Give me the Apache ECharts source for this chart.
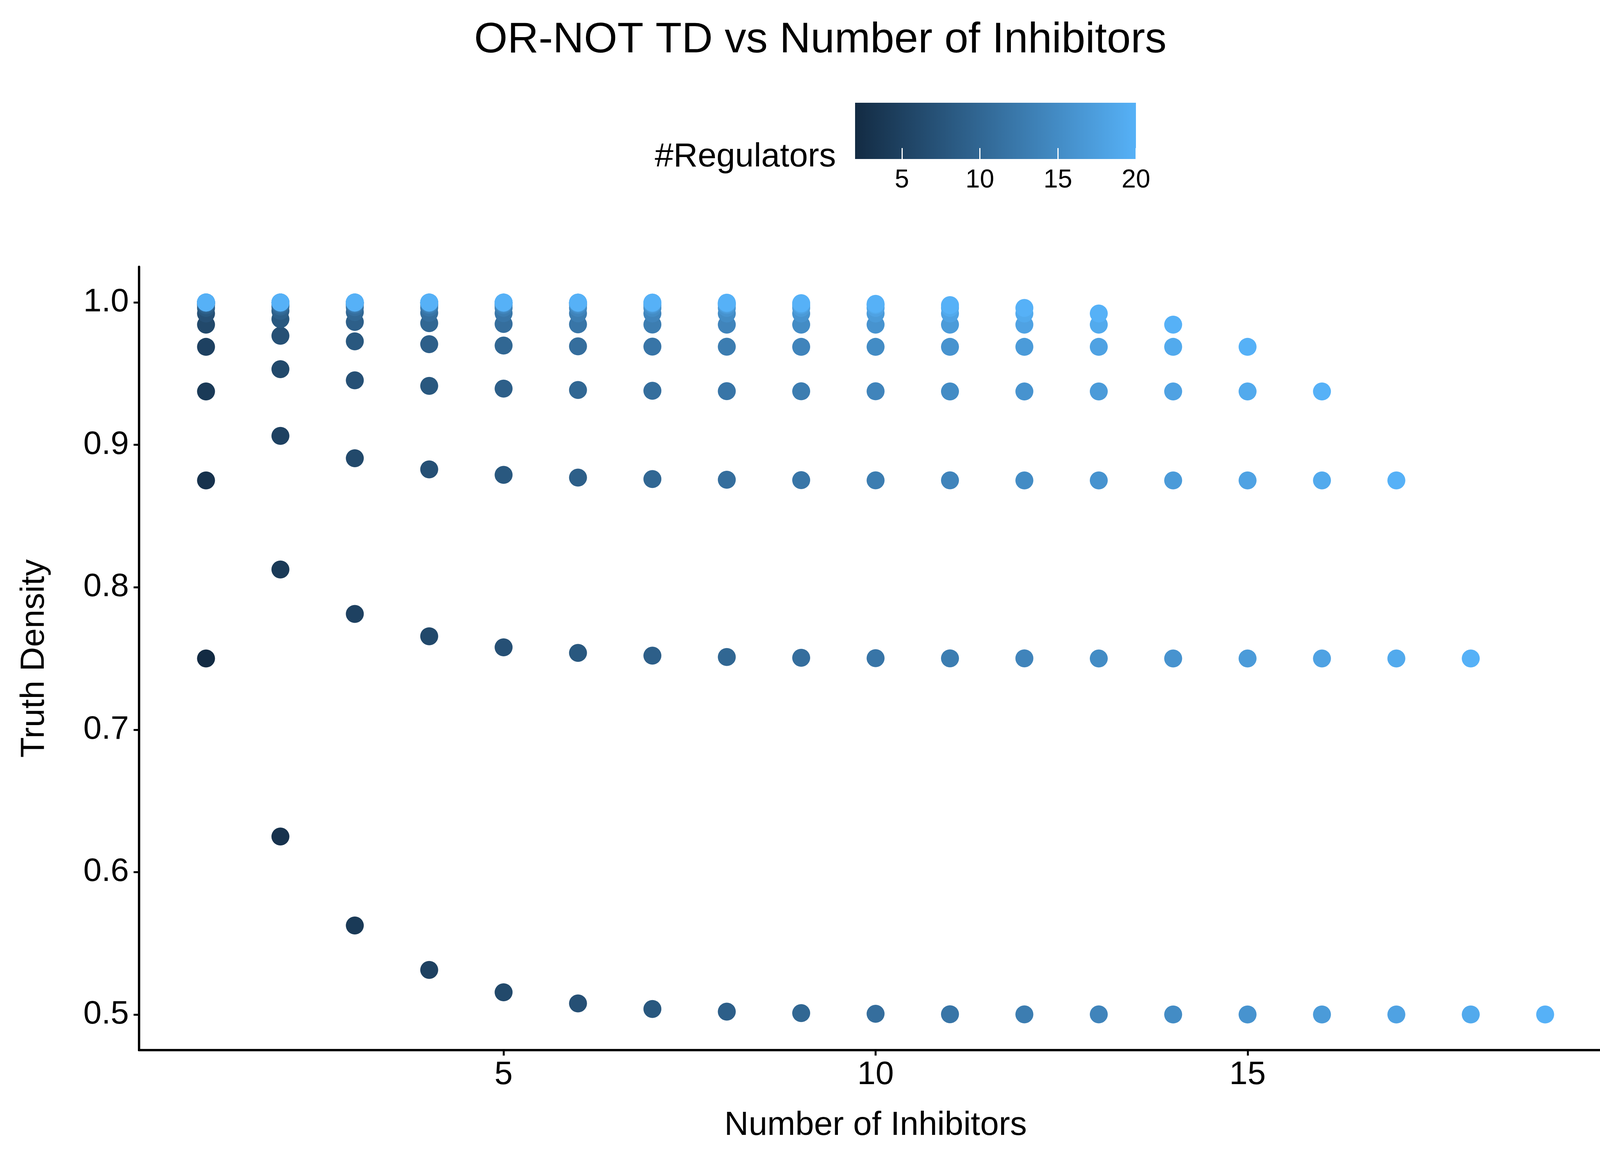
<!DOCTYPE html>
<html><head><meta charset="utf-8">
<script src="https://cdn.jsdelivr.net/npm/echarts@6/dist/echarts.min.js"></script>
<style>html,body{margin:0;padding:0;background:#fff}#c{width:4200px;height:3000px}</style>
</head><body><div id="c"></div>
<script>
// Truth density rows, one per number of activators (k = 1..19); index i => inhibitors n = i+1
const row1 = [0.75,0.625,0.5625,0.5313,0.5156,0.5078,0.5039,0.502,0.501,0.5005,0.5002,0.5001,0.5001,0.5,0.5,0.5,0.5,0.5,0.5];
const row2 = [0.875,0.8125,0.7813,0.7656,0.7578,0.7539,0.752,0.751,0.7505,0.7502,0.7501,0.7501,0.75,0.75,0.75,0.75,0.75,0.75];
const row3 = [0.9375,0.9063,0.8906,0.8828,0.8789,0.877,0.876,0.8755,0.8752,0.8751,0.8751,0.875,0.875,0.875,0.875,0.875,0.875];
const row4 = [0.9688,0.9531,0.9453,0.9414,0.9395,0.9385,0.938,0.9377,0.9376,0.9376,0.9375,0.9375,0.9375,0.9375,0.9375,0.9375];
const row5 = [0.9844,0.9766,0.9727,0.9707,0.9697,0.9692,0.969,0.9689,0.9688,0.9688,0.9688,0.9688,0.9688,0.9688,0.9688];
const row6 = [0.9922,0.9883,0.9863,0.9854,0.9849,0.9846,0.9845,0.9844,0.9844,0.9844,0.9844,0.9844,0.9844,0.9844];
const row7 = [0.9961,0.9941,0.9932,0.9927,0.9924,0.9923,0.9922,0.9922,0.9922,0.9922,0.9922,0.9922,0.9922];
const row8 = [0.998,0.9971,0.9966,0.9963,0.9962,0.9961,0.9961,0.9961,0.9961,0.9961,0.9961,0.9961];
const row9 = [0.999,0.9985,0.9983,0.9982,0.9981,0.9981,0.9981,0.9981,0.9981,0.9981,0.9981];
const row10 = [0.9995,0.9993,0.9991,0.999,0.999,0.999,0.999,0.999,0.999,0.999];
const row11 = [0.9998,0.9996,0.9995,0.9995,0.9995,0.9995,0.9995,0.9995,0.9995];
const row12 = [0.9999,0.9998,0.9998,0.9998,0.9998,0.9998,0.9998,0.9998];
const row13 = [0.9999,0.9999,0.9999,0.9999,0.9999,0.9999,0.9999];
const row14 = [0.9999,0.9999,0.9999,0.9999,0.9999,0.9999];
const row15 = [1,1,1,1,1];
const row16 = [1,1,1,1];
const row17 = [1,1,1];
const row18 = [1,1];
const row19 = [1];
const rows = [row1,row2,row3,row4,row5,row6,row7,row8,row9,row10,row11,row12,row13,row14,row15,row16,row17,row18,row19];
const xTicks = [5,10,15];
const yTicks = [0.5,0.6,0.7,0.8,0.9,1.0];
const cbTicks = [5,10,15,20];

const data = [];
rows.forEach((r, ki) => r.forEach((y, ni) => data.push([ni + 1, y, ni + 1 + ki + 1])));

const F = 'Liberation Sans';
const chart = echarts.init(document.getElementById('c'));
chart.setOption({
  backgroundColor: '#fff',
  animation: false,
  title: { text: 'OR-NOT TD vs Number of Inhibitors', left: 'center', top: 44,
    textStyle: { fontFamily: F, fontWeight: 'normal', fontSize: 110, color: '#000' } },
  visualMap: { show: false, type: 'continuous', dimension: 2, min: 2, max: 20, seriesIndex: 0,
    inRange: { color: ['#132B43', '#56B1F7'] } },
  grid: [
    { left: 356, right: 73, top: 683, bottom: 312 },
    { left: 2189, width: 719, top: 263, height: 144 }
  ],
  xAxis: [
    { type: 'value', min: 0.1, max: 19.9, gridIndex: 0,
      name: 'Number of Inhibitors', nameLocation: 'middle', nameGap: 150,
      nameTextStyle: { fontFamily: F, fontSize: 86, color: '#000' },
      axisLine: { lineStyle: { color: '#000', width: 6 } },
      axisTick: { customValues: xTicks, length: 14, lineStyle: { color: '#000', width: 5 } },
      axisLabel: { customValues: xTicks, fontFamily: F, fontSize: 84, color: '#000', margin: 22 },
      splitLine: { show: false } },
    { type: 'value', min: 2, max: 20, gridIndex: 1, z: 10,
      axisLine: { show: false },
      axisTick: { customValues: cbTicks, inside: true, length: 28, lineStyle: { color: '#fff', width: 3 } },
      axisLabel: { customValues: cbTicks, fontFamily: F, fontSize: 66, color: '#000', margin: 22 },
      splitLine: { show: false } }
  ],
  yAxis: [
    { type: 'value', min: 0.475, max: 1.025, gridIndex: 0,
      name: 'Truth Density', nameLocation: 'middle', nameGap: 225,
      nameTextStyle: { fontFamily: F, fontSize: 86, color: '#000' },
      axisLine: { show: true, lineStyle: { color: '#000', width: 6 } },
      axisTick: { show: true, customValues: yTicks, length: 14, lineStyle: { color: '#000', width: 5 } },
      axisLabel: { customValues: yTicks, fontFamily: F, fontSize: 84, color: '#000', margin: 26,
        formatter: v => v.toFixed(1) },
      splitLine: { show: false } },
    { type: 'value', gridIndex: 1, show: false, min: 0, max: 1 }
  ],
  graphic: [
    { type: 'rect', z: 1, shape: { x: 2189, y: 263, width: 719, height: 144 },
      style: { fill: new echarts.graphic.LinearGradient(0, 0, 1, 0,
        [{ offset: 0, color: '#132B43' }, { offset: 1, color: '#56B1F7' }]) } },
    { type: 'text', z: 1, x: 2140, y: 402,
      style: { text: '#Regulators', fontFamily: F, fontSize: 86, fill: '#000',
        textAlign: 'right', textVerticalAlign: 'middle' } }
  ],
  series: [
    { type: 'scatter', xAxisIndex: 0, yAxisIndex: 0, symbolSize: 46, data: data,
      itemStyle: { opacity: 1 } },
    { type: 'scatter', xAxisIndex: 1, yAxisIndex: 1, data: [], silent: true }
  ]
});
</script></body></html>
